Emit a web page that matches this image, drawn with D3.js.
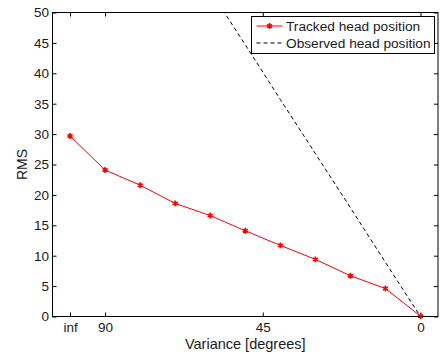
<!DOCTYPE html>
<html>
<head>
<meta charset="utf-8">
<script src="https://cdn.jsdelivr.net/npm/d3@7"></script>
<style>
  body { margin: 0; background: #fff; }
  svg { display: block; font-family: "Liberation Sans", Arial, sans-serif; }
</style>
</head>
<body>
<div id="chart"></div>
<script>
// Data (variance in degrees; "inf" drawn at 100)
const variance = [100, 90, 80, 70, 60, 50, 40, 30, 20, 10, 0];
const trackedRMS = [29.7, 24.1, 21.6, 18.6, 16.6, 14.1, 11.7, 9.4, 6.7, 4.6, 0.05];
const observedVariance = [90, 80, 70, 60, 50, 40, 30, 20, 10, 0];
const observedRMS = [80.4, 71.5, 62.5, 53.6, 44.7, 35.7, 26.8, 17.9, 8.9, 0];
const xTickValues = [100, 90, 45, 0];
const xTickLabels = ["inf", "90", "45", "0"];
const yTickValues = [0, 5, 10, 15, 20, 25, 30, 35, 40, 45, 50];
const seriesNames = ["Tracked head position", "Observed head position"];

const width = 440, height = 354;
const margin = { left: 52.5, right: 2, top: 12.5, bottom: 37.5 };
const innerW = width - margin.left - margin.right;
const innerH = height - margin.top - margin.bottom;

const svg = d3.select("#chart").append("svg")
    .attr("width", width)
    .attr("height", height);

const x = d3.scaleLinear().domain([105, -5]).range([0, innerW]);
const y = d3.scaleLinear().domain([0, 50]).range([innerH, 0]);

const g = svg.append("g")
    .attr("transform", `translate(${margin.left},${margin.top})`);

g.append("clipPath").attr("id", "clip")
  .append("rect").attr("width", innerW).attr("height", innerH);

// Axes (MATLAB style: ticks inward, on all four sides)
const tickLen = 4;
const styleAxis = sel => {
  sel.select(".domain").remove();
  sel.selectAll("line").attr("stroke", "#000");
  sel.selectAll("text").attr("fill", "#1a1a1a").style("font-size", "13.5px");
};

g.append("g")
    .attr("transform", `translate(0,${innerH})`)
    .call(d3.axisBottom(x).tickValues(xTickValues)
      .tickFormat((d, i) => xTickLabels[i]).tickSizeInner(-tickLen).tickPadding(6))
    .call(styleAxis);

g.append("g")
    .call(d3.axisTop(x).tickValues(xTickValues).tickFormat("").tickSizeInner(-tickLen))
    .call(styleAxis);

g.append("g")
    .call(d3.axisLeft(y).tickValues(yTickValues).tickSizeInner(-tickLen).tickPadding(3.5))
    .call(styleAxis);

g.append("g")
    .attr("transform", `translate(${innerW},0)`)
    .call(d3.axisRight(y).tickValues(yTickValues).tickFormat("").tickSizeInner(-tickLen))
    .call(styleAxis);

g.append("rect")
    .attr("width", innerW).attr("height", innerH)
    .attr("fill", "none").attr("stroke", "#000").attr("stroke-width", 1);

// Observed (dashed)
const observed = observedVariance.map((v, i) => ({ x: v, y: observedRMS[i] }));
g.append("path")
    .datum(observed)
    .attr("clip-path", "url(#clip)")
    .attr("fill", "none")
    .attr("stroke", "#000")
    .attr("stroke-width", 1)
    .attr("stroke-dasharray", "4,3")
    .attr("d", d3.line().x(d => x(d.x)).y(d => y(d.y)));

// Tracked (red, star markers)
const tracked = variance.map((v, i) => ({ x: v, y: trackedRMS[i] }));
g.append("path")
    .datum(tracked)
    .attr("fill", "none")
    .attr("stroke", "#ff0000")
    .attr("stroke-width", 1)
    .attr("d", d3.line().x(d => x(d.x)).y(d => y(d.y)));

const star = d3.symbol().type(d3.symbolAsterisk).size(24);
g.selectAll(".marker")
  .data(tracked)
  .join("path")
    .attr("class", "marker")
    .attr("transform", d => `translate(${x(d.x)},${y(d.y)})`)
    .attr("d", star)
    .attr("fill", "none")
    .attr("stroke", "#ff0000")
    .attr("stroke-width", 1.6);

// Axis labels
svg.append("text")
    .attr("x", margin.left + innerW / 2)
    .attr("y", 348.5)
    .attr("text-anchor", "middle")
    .attr("fill", "#1a1a1a")
    .style("font-size", "14.5px")
    .text("Variance [degrees]");

svg.append("text")
    .attr("transform", `translate(26.5,${margin.top + innerH / 2}) rotate(-90)`)
    .attr("text-anchor", "middle")
    .attr("fill", "#1a1a1a")
    .style("font-size", "14px")
    .text("RMS");

// Legend
const legend = svg.append("g").attr("transform", "translate(251.5,16.5)");
legend.append("rect")
    .attr("width", 183).attr("height", 37)
    .attr("fill", "#fff").attr("stroke", "#000").attr("stroke-width", 1);

legend.append("line")
    .attr("x1", 5).attr("x2", 31).attr("y1", 9.5).attr("y2", 9.5)
    .attr("stroke", "#ff0000").attr("stroke-width", 1);
legend.append("path")
    .attr("transform", "translate(18,9.5)")
    .attr("d", star)
    .attr("fill", "none").attr("stroke", "#ff0000").attr("stroke-width", 1.6);
legend.append("line")
    .attr("x1", 5).attr("x2", 31).attr("y1", 26.5).attr("y2", 26.5)
    .attr("stroke", "#000").attr("stroke-width", 1)
    .attr("stroke-dasharray", "4,3");

legend.selectAll(".ltext")
  .data(seriesNames)
  .join("text")
    .attr("class", "ltext")
    .attr("x", 34.5)
    .attr("y", (d, i) => 14.5 + i * 17)
    .attr("fill", "#1a1a1a")
    .style("font-size", "13.7px")
    .text(d => d);
</script>
</body>
</html>
